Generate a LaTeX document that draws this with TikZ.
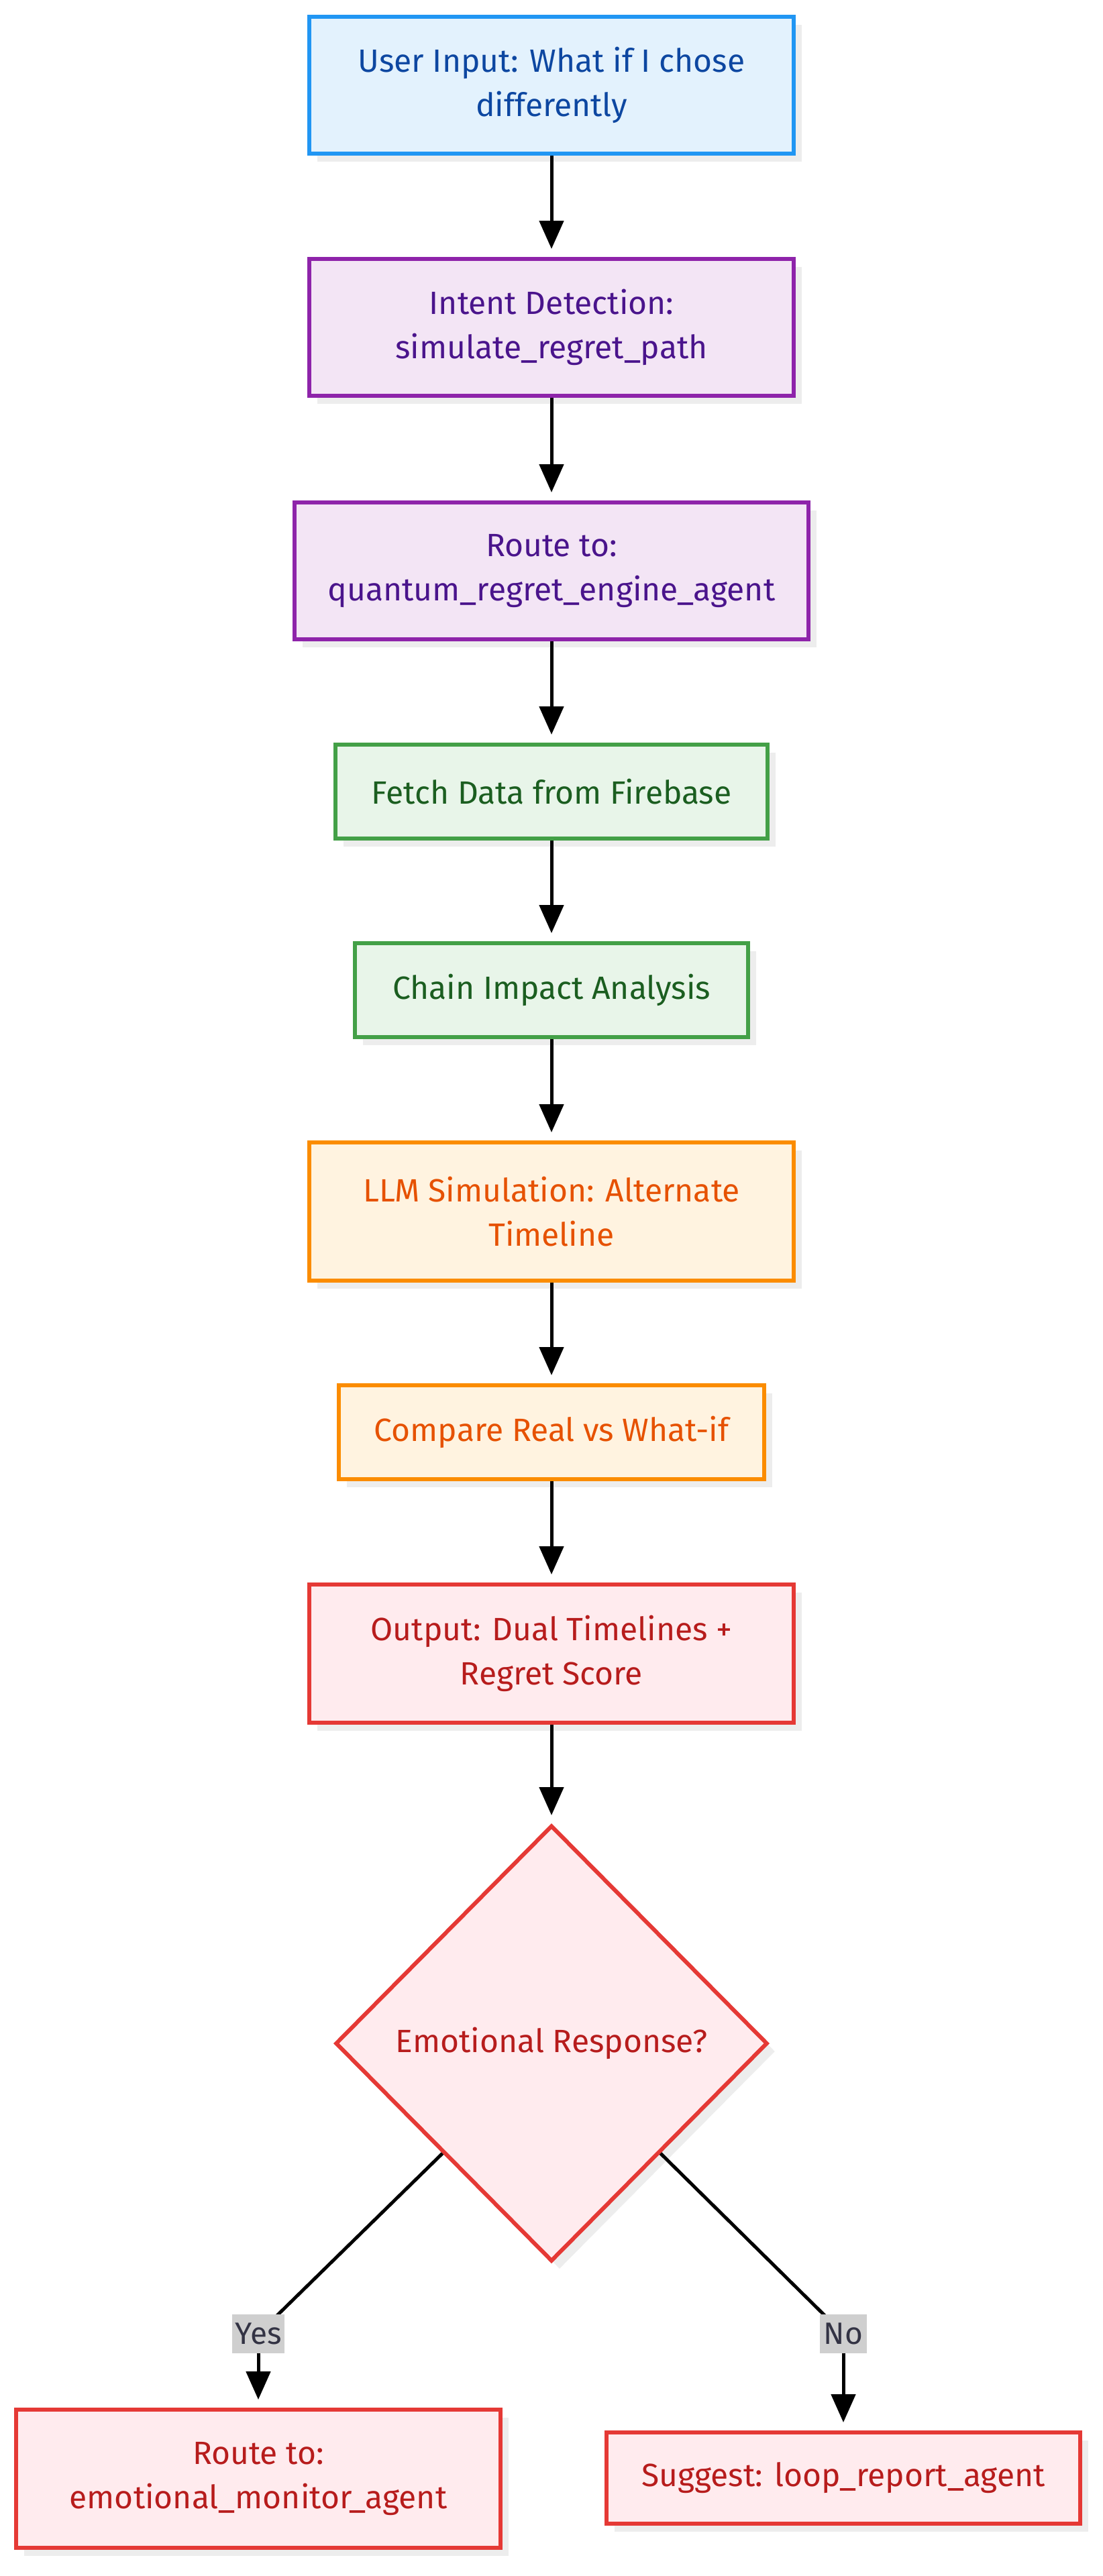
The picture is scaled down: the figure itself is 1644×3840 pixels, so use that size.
\documentclass[tikz,border=0pt]{standalone}
\usepackage{fontspec}
\setmainfont{Fira Sans}
\usepackage{xcolor}
\usetikzlibrary{arrows.meta,shapes.geometric,shadows}

\definecolor{inFill}{HTML}{E3F2FD}
\definecolor{inLine}{HTML}{2196F3}
\definecolor{inText}{HTML}{0D47A1}
\definecolor{procFill}{HTML}{F3E5F5}
\definecolor{procLine}{HTML}{8E24AA}
\definecolor{procText}{HTML}{4A148C}
\definecolor{dataFill}{HTML}{E8F5E9}
\definecolor{dataLine}{HTML}{43A047}
\definecolor{dataText}{HTML}{1B5E20}
\definecolor{simFill}{HTML}{FFF3E0}
\definecolor{simLine}{HTML}{FB8C00}
\definecolor{simText}{HTML}{E65100}
\definecolor{outFill}{HTML}{FFEBEE}
\definecolor{outLine}{HTML}{E53935}
\definecolor{outText}{HTML}{B71C1C}
\definecolor{lblFill}{HTML}{CFCFCF}
\definecolor{lblText}{HTML}{333344}

\begin{document}
\begin{tikzpicture}[x=0.5pt,y=0.5pt,yscale=-1,xscale=1,
  box/.style={draw, line width=3pt, inner sep=0pt, align=center,
    font=\fontsize{24}{33}\selectfont,
    drop shadow={shadow xshift=6pt, shadow yshift=-6pt, fill=black!7, opacity=1}},
  inbox/.style={box, fill=inFill, draw=inLine, text=inText},
  procbox/.style={box, fill=procFill, draw=procLine, text=procText},
  databox/.style={box, fill=dataFill, draw=dataLine, text=dataText},
  simbox/.style={box, fill=simFill, draw=simLine, text=simText},
  outbox/.style={box, fill=outFill, draw=outLine, text=outText},
  flow/.style={line width=2.5pt, -{Triangle[length=21pt,width=18pt]}, shorten >=6pt},
  branch/.style={line width=2.5pt},
  lbl/.style={fill=lblFill, text=lblText, inner sep=2pt, minimum width=35pt, minimum height=29pt,
    font=\fontsize{23}{33}\selectfont}
]
\useasboundingbox (0,0) rectangle (1644,3840);

% Text Node
\node [inbox, minimum width=361pt, minimum height=102pt] (userin) at (822,127) {User Input: What if I chose\\differently};
% Text Node
\node [procbox, minimum width=361pt, minimum height=102pt] (intent) at (822,488) {Intent Detection:\\simulate\_regret\_path};
% Text Node
\node [procbox, minimum width=383pt, minimum height=102pt] (route) at (822,851) {Route to:\\quantum\_regret\_engine\_agent};
% Text Node
\node [databox, minimum width=322pt, minimum height=70pt] (fetch) at (822,1180) {Fetch Data from Firebase};
% Text Node
\node [databox, minimum width=293pt, minimum height=70pt] (chain) at (822,1476) {Chain Impact Analysis};
% Text Node
\node [simbox, minimum width=361pt, minimum height=103pt] (llmsim) at (822,1806) {LLM Simulation: Alternate\\Timeline};
% Text Node
\node [simbox, minimum width=317pt, minimum height=70pt] (compare) at (822,2135) {Compare Real vs What-if};
% Text Node
\node [outbox, minimum width=361pt, minimum height=103pt] (output) at (822,2465) {Output: Dual Timelines +\\Regret Score};
% Text Node
\node [outbox, diamond, aspect=1, minimum width=322pt, minimum height=325pt] (emoq) at (822,3046) {Emotional Response?};
% Text Node
\node [outbox, minimum width=361pt, minimum height=103pt] (emomon) at (385,3695) {Route to:\\emotional\_monitor\_agent};
% Text Node
\node [outbox, minimum width=353pt, minimum height=68pt] (loopsug) at (1257,3694) {Suggest: loop\_report\_agent};

\coordinate (yespt) at (385,3479);
\coordinate (nopt) at (1257,3479);

%Straight Lines
\draw [flow] (userin) -- (intent);
\draw [flow] (intent) -- (route);
\draw [flow] (route) -- (fetch);
\draw [flow] (fetch) -- (chain);
\draw [flow] (chain) -- (llmsim);
\draw [flow] (llmsim) -- (compare);
\draw [flow] (compare) -- (output);
\draw [flow] (output) -- (emoq);
%Straight Lines
\draw [branch] (emoq.south west) -- (yespt);
\draw [flow] (yespt) -- (emomon.north);
\draw [branch] (emoq.south east) -- (nopt);
\draw [flow] (nopt) -- (loopsug.north);

% Text Node
\node [lbl] (yes) at (yespt) {Yes};
% Text Node
\node [lbl] (no) at (nopt) {No};

\end{tikzpicture}
\end{document}
